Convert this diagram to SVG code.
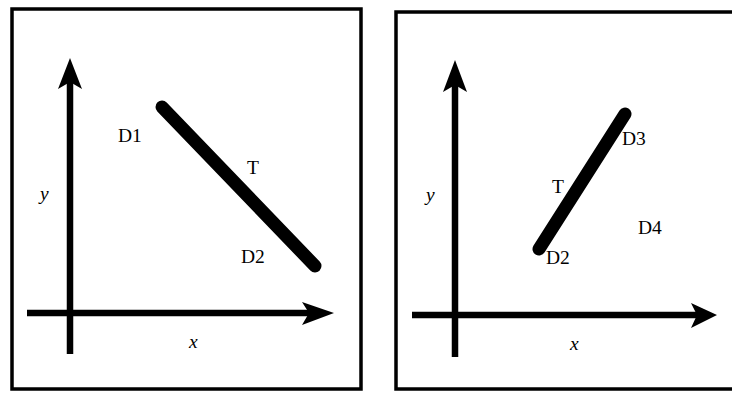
<svg xmlns="http://www.w3.org/2000/svg" width="732" height="394" viewBox="0 0 732 394">
<style>
.frame{fill:none;stroke:#000;stroke-width:3.5}
.axis{stroke:#000;stroke-width:6.5;fill:none}
.seg{stroke:#000;stroke-width:13;stroke-linecap:round;fill:none}
.head{fill:#000}
text{font-family:"Liberation Serif","DejaVu Serif",serif;font-size:19.5px;fill:#000}
.it{font-style:italic}
</style>
<rect width="732" height="394" fill="#fff"/>
<g id="panel-left">
  <rect class="frame" x="12" y="9" width="349" height="380"/>
  <g id="axes-left">
    <line class="axis" x1="70" y1="354" x2="70" y2="78"/>
    <path class="head" d="M70 58 L82 89 L70 82 L58 89 Z"/>
    <line class="axis" x1="27" y1="313" x2="312" y2="313"/>
    <path class="head" d="M334 313 L302 325 L309 313 L302 302 Z"/>
  </g>
  <line id="T-left" class="seg" x1="162" y1="107" x2="315" y2="266"/>
  <text x="118" y="142">D1</text>
  <text x="247" y="174">T</text>
  <text x="241" y="263">D2</text>
  <text class="it" x="40" y="200">y</text>
  <text class="it" x="189" y="348">x</text>
</g>
<g id="panel-right">
  <rect class="frame" x="396" y="12" width="345" height="377"/>
  <g id="axes-right">
    <line class="axis" x1="455" y1="357" x2="455" y2="80"/>
    <path class="head" d="M455 60 L467 92 L455 85 L443 92 Z"/>
    <line class="axis" x1="412" y1="315" x2="697" y2="315"/>
    <path class="head" d="M717 315 L691 328 L697 315 L691 303 Z"/>
  </g>
  <line id="T-right" class="seg" x1="539" y1="249" x2="625" y2="114"/>
  <text x="622" y="145">D3</text>
  <text x="552" y="193">T</text>
  <text x="638" y="234">D4</text>
  <text x="546" y="264">D2</text>
  <text class="it" x="426" y="201">y</text>
  <text class="it" x="570" y="350">x</text>
</g>
</svg>
